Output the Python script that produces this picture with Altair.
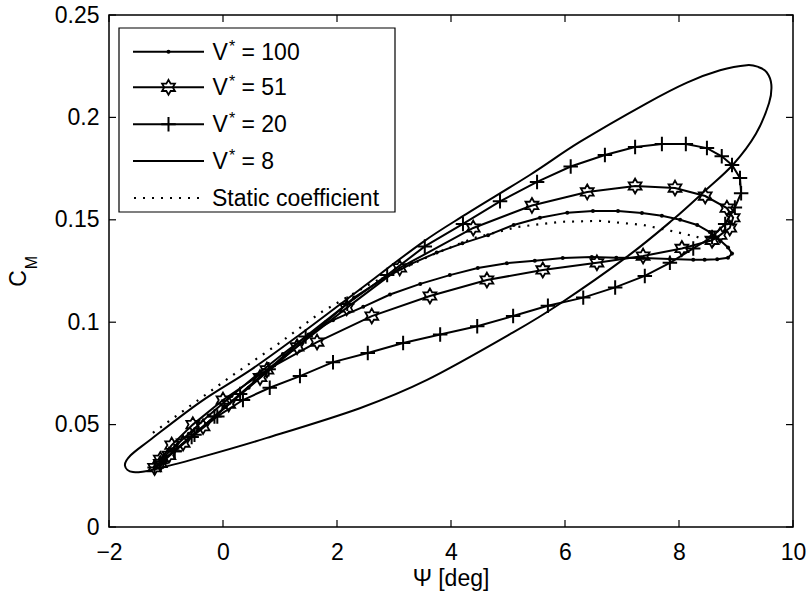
import altair as alt
import pandas as pd

# ---------------- data ----------------
v8_x = [-1.72, -1.58, -1.23, -0.40, 0.77, 2.40, 3.58, 5.09, 5.91, 7.09, 7.89, 8.45, 8.95,
        9.35, 9.58, 9.62, 9.54, 9.40, 9.19, 8.72, 8.14, 7.44, 6.26, 5.39, 4.28, 3.50, 2.40,
        1.35, 0.50, -0.40, -1.28, -1.62]
v8_y = [0.030, 0.0268, 0.028, 0.034, 0.0435, 0.058, 0.0718, 0.095, 0.109, 0.132, 0.150, 0.164,
        0.177, 0.192, 0.207, 0.216, 0.222, 0.2245, 0.2255, 0.223, 0.217, 0.207, 0.188, 0.172,
        0.153, 0.139, 0.116, 0.094, 0.077, 0.061, 0.0425, 0.035]

st_x = [-1.23, 0.175, 1.0, 1.7, 2.6, 3.68, 4.39, 5.16, 5.91, 6.6, 7.37, 7.96, 8.32, 8.54, 8.70]
st_y = [0.046, 0.0742, 0.090, 0.1045, 0.119, 0.133, 0.141, 0.1465, 0.149, 0.1495, 0.1475,
        0.144, 0.1416, 0.1387, 0.1355]

v100_x = [-1.2, -1.05, -0.85, -0.6, -0.3, 0.05, 0.45, 0.9, 1.35, 1.8, 2.3, 2.8, 3.3, 3.75, 4.2,
          4.65, 5.1, 5.56, 6.04, 6.49, 6.93, 7.35, 7.70, 8.02, 8.32, 8.54, 8.72, 8.86, 8.93,
          8.86, 8.67, 8.45, 8.25, 7.84, 7.37, 6.9, 6.47, 5.96, 5.47, 4.98, 4.47, 3.98, 3.46,
          2.93, 2.46, 1.93, 1.5, 1.05, 0.6, 0.15, -0.25, -0.6, -0.9, -1.1]
v100_y = [0.029, 0.0326, 0.0372, 0.0432, 0.0503, 0.0586, 0.068, 0.0788, 0.0894, 0.100, 0.112,
          0.121, 0.1285, 0.134, 0.1385, 0.1425, 0.1475, 0.151, 0.1535, 0.1543, 0.1543, 0.1533,
          0.152, 0.150, 0.1475, 0.144, 0.140, 0.1365, 0.1335, 0.1315, 0.1307, 0.1305, 0.1305,
          0.1308, 0.1313, 0.1315, 0.1318, 0.1314, 0.130, 0.1288, 0.1265, 0.123, 0.1187, 0.1135,
          0.1075, 0.101, 0.094, 0.0845, 0.0745, 0.064, 0.0545, 0.0455, 0.038, 0.0325]

v51_x = [-1.2, -1.1, -0.95, -0.7, -0.35, 0.1, 0.65, 1.3, 2.17, 3.1, 4.39, 5.42, 6.39, 7.23,
         7.93, 8.46, 8.84, 8.95, 8.89, 8.72, 8.58, 8.05, 7.37, 6.56, 5.61, 4.63, 3.63, 2.61,
         1.65, 0.77, 0.0, -0.53, -0.9, -1.1]
v51_y = [0.029, 0.031, 0.035, 0.041, 0.049, 0.060, 0.073, 0.088, 0.107, 0.1265, 0.146, 0.157,
         0.1636, 0.1665, 0.1655, 0.1616, 0.1557, 0.151, 0.146, 0.1425, 0.140, 0.136, 0.1323,
         0.129, 0.1255, 0.1206, 0.1128, 0.103, 0.0903, 0.0767, 0.062, 0.050, 0.040, 0.033]

v20_x = [-1.2, -1.05, -0.85, -0.55, -0.15, 0.3, 0.8, 1.45, 2.18, 2.88, 3.54, 4.21, 4.86, 5.51,
         6.10, 6.70, 7.23, 7.70, 8.12, 8.49, 8.75, 8.93, 9.07, 9.09, 8.98, 8.81, 8.58, 8.25,
         7.84, 7.40, 6.88, 6.32, 5.70, 5.09, 4.46, 3.81, 3.16, 2.54, 1.93, 1.35, 0.82, 0.35,
         -0.1, -0.5, -0.85, -1.1]
v20_y = [0.029, 0.032, 0.037, 0.044, 0.054, 0.065, 0.077, 0.093, 0.109, 0.123, 0.137, 0.148,
         0.159, 0.1685, 0.176, 0.1816, 0.1855, 0.187, 0.187, 0.185, 0.181, 0.1768, 0.1704,
         0.163, 0.156, 0.148, 0.1416, 0.136, 0.129, 0.1226, 0.117, 0.112, 0.108, 0.103, 0.098,
         0.094, 0.0898, 0.085, 0.0805, 0.0737, 0.068, 0.062, 0.054, 0.045, 0.037, 0.031]

x_ticks = [-2, 0, 2, 4, 6, 8, 10]
y_ticks = [0, 0.05, 0.1, 0.15, 0.2, 0.25]
legend_labels = ["= 100", "= 51", "= 20", "= 8"]
x_title = "Ψ [deg]"

# ---------------- styling ----------------
FONT = "Liberation Sans"
FS = 23
W, H = 684, 512
HEX = ("M0,-1L0.2887,-0.5L0.866,-0.5L0.577,0L0.866,0.5L0.2887,0.5L0,1L-0.2887,0.5"
       "L-0.866,0.5L-0.577,0L-0.866,-0.5L-0.2887,-0.5Z")
PLUS = "M-1,0L1,0M0,-1L0,1"
STAR_SIZE, PLUS_SIZE, DOT_SIZE = 220, 210, 16


def frame(xs, ys):
    return pd.DataFrame({"i": list(range(len(xs))), "psi": xs, "cm": ys})


xscale = alt.Scale(domain=[-2, 10], nice=False, zero=False)
yscale = alt.Scale(domain=[0, 0.25], nice=False, zero=False)
xaxis = alt.Axis(values=x_ticks, ticks=False, domain=False, grid=False, title=None,
                 labelFont=FONT, labelFontSize=FS, labelColor="black", labelPadding=14,
                 labelFlush=False)
yaxis = alt.Axis(values=y_ticks, ticks=False, domain=False, grid=False, title=None,
                 labelFont=FONT, labelFontSize=FS, labelColor="black", labelPadding=10,
                 labelFlush=False,
                 labelExpr="datum.value == 0 ? '0' : format(datum.value, '.2~f')")
X = alt.X("psi:Q", scale=xscale, axis=xaxis)
Y = alt.Y("cm:Q", scale=yscale, axis=yaxis)

d8, dst = frame(v8_x, v8_y), frame(st_x, st_y)
d100, d51, d20 = frame(v100_x, v100_y), frame(v51_x, v51_y), frame(v20_x, v20_y)

layers = []
layers.append(alt.Chart(d8).mark_line(color="black", strokeWidth=2, interpolate="cardinal-closed")
              .encode(x=X, y=Y, order=alt.Order("i:Q")))
layers.append(alt.Chart(dst).mark_line(color="black", strokeWidth=2.2, strokeDash=[2, 7])
              .encode(x=X, y=Y, order=alt.Order("i:Q")))
for d in (d100, d51, d20):
    layers.append(alt.Chart(d).mark_line(color="black", strokeWidth=2)
                  .encode(x=X, y=Y, order=alt.Order("i:Q")))
layers.append(alt.Chart(d100).mark_point(shape="circle", filled=True, size=DOT_SIZE,
                                         color="black", opacity=1).encode(x=X, y=Y))
layers.append(alt.Chart(d51).mark_point(shape=HEX, filled=False, size=STAR_SIZE, strokeWidth=1.8,
                                        color="black", opacity=1).encode(x=X, y=Y))
layers.append(alt.Chart(d20).mark_point(shape=PLUS, filled=False, size=PLUS_SIZE, strokeWidth=2,
                                        color="black", opacity=1).encode(x=X, y=Y))

# inward ticks on all four sides
xt = pd.DataFrame({"psi": x_ticks})
yt = pd.DataFrame({"cm": y_ticks})
tk = dict(color="black", strokeWidth=1.2)
layers.append(alt.Chart(xt).mark_rule(**tk).encode(x=X, y=alt.value(H), y2=alt.value(H - 7)))
layers.append(alt.Chart(xt).mark_rule(**tk).encode(x=X, y=alt.value(0), y2=alt.value(7)))
layers.append(alt.Chart(yt).mark_rule(**tk).encode(y=Y, x=alt.value(0), x2=alt.value(7)))
layers.append(alt.Chart(yt).mark_rule(**tk).encode(y=Y, x=alt.value(W), x2=alt.value(W - 7)))

one = pd.DataFrame({"k": [0]})


def txt(t, x, y, size=FS, align="left", angle=None):
    kw = dict(text=t, align=align, baseline="middle", fontSize=size, font=FONT, color="black")
    if angle is not None:
        kw["angle"] = angle
    return alt.Chart(one).mark_text(**kw).encode(x=alt.value(x), y=alt.value(y))


# axis titles
layers.append(alt.Chart(one).mark_text(text=x_title, align="center", baseline="alphabetic",
                                       fontSize=FS, font=FONT, color="black")
              .encode(x=alt.value(W / 2), y=alt.value(571)))
layers.append(txt("C", -90.5, 263.5, align="center", angle=270))
layers.append(txt("M", -77.5, 247.5, size=16, align="center", angle=270))

# legend
layers.append(alt.Chart(one).mark_rect(fill="white", stroke="black", strokeWidth=1.2)
              .encode(x=alt.value(10), x2=alt.value(286), y=alt.value(13), y2=alt.value(197)))
rows = [36.7, 72.3, 109.3, 146.0, 183.0]
shapes = [("circle", True, DOT_SIZE, 1), (HEX, False, STAR_SIZE, 1.8),
          (PLUS, False, PLUS_SIZE, 2), None]
for k in range(4):
    r = rows[k]
    layers.append(alt.Chart(one).mark_rule(color="black", strokeWidth=2)
                  .encode(x=alt.value(24), x2=alt.value(95), y=alt.value(r)))
    if shapes[k] is not None:
        shp, fil, sz, sw = shapes[k]
        layers.append(alt.Chart(one).mark_point(shape=shp, filled=fil, size=sz, strokeWidth=sw,
                                                color="black", opacity=1)
                      .encode(x=alt.value(59.5), y=alt.value(r)))
    layers.append(txt("V", 103.5, r + 1))
    layers.append(txt("*", 123, r - 5, size=16, align="center"))
    layers.append(txt(legend_labels[k], 132.5, r + 1))
layers.append(alt.Chart(one).mark_rule(color="black", strokeWidth=2.2, strokeDash=[2, 7])
              .encode(x=alt.value(25), x2=alt.value(95), y=alt.value(rows[4])))
layers.append(txt("Static coefficient", 103, rows[4] + 1))

chart = (alt.layer(*layers)
         .properties(width=W, height=H, background="white",
                     padding={"left": 109, "top": 15, "right": 15, "bottom": 71},
                     autosize=alt.AutoSizeParams(type="none"))
         .configure_view(stroke="black", strokeWidth=1.5))

chart.save("out.html", embed_options={"renderer": "svg", "actions": False})
